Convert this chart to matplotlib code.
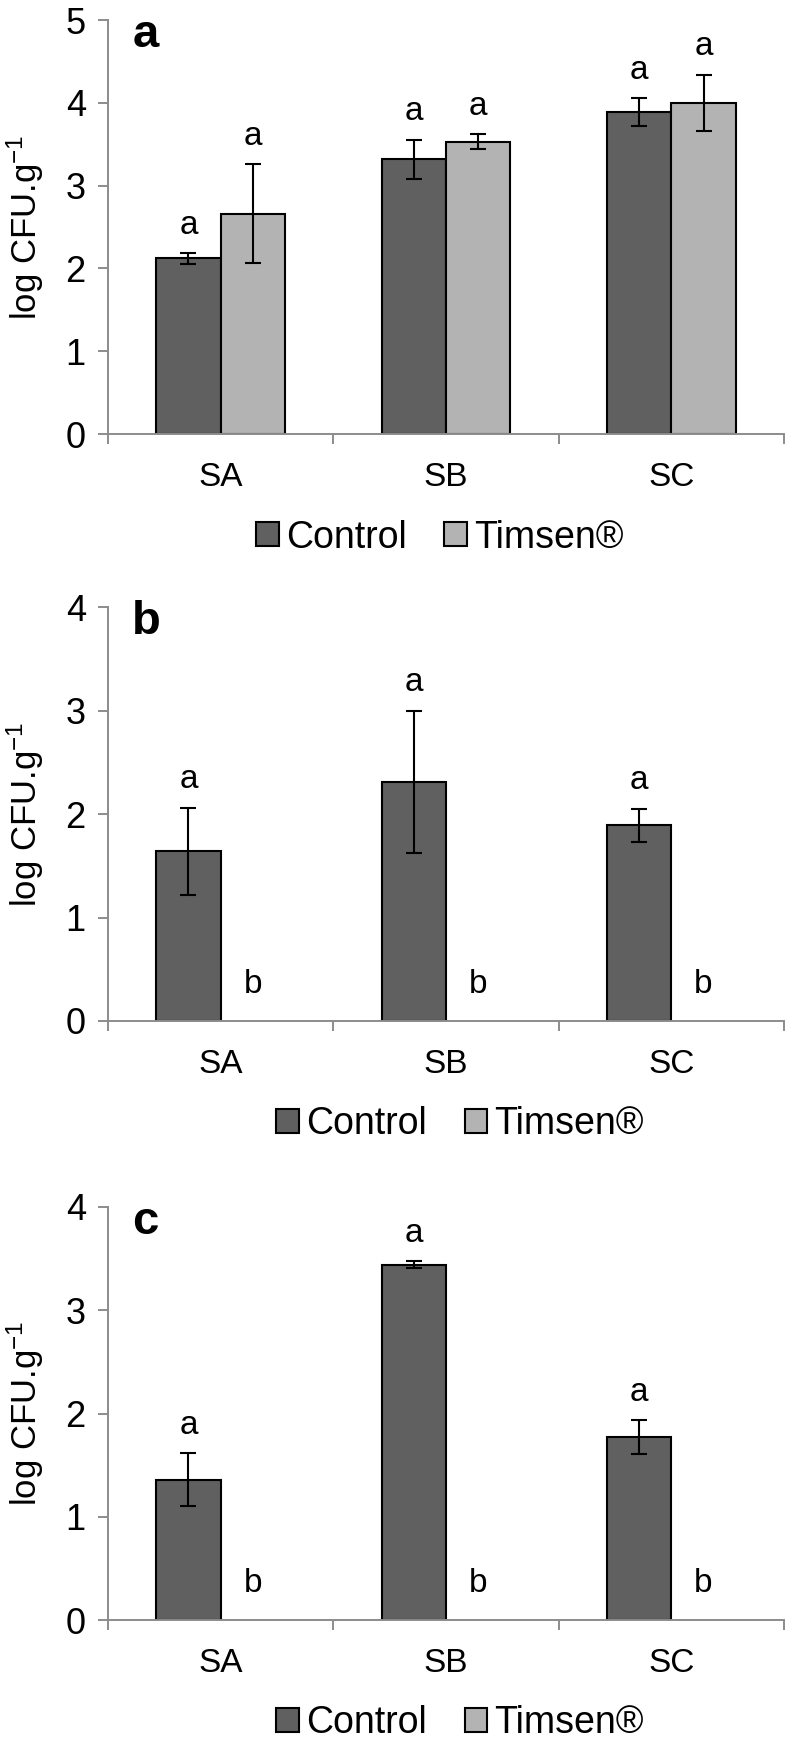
import numpy as np
import matplotlib
matplotlib.use("Agg")
import matplotlib.pyplot as plt
from matplotlib.patches import Patch

plt.rcParams['font.family'] = ['Liberation Sans', 'DejaVu Sans']
plt.rcParams['mathtext.default'] = 'regular'

# --- data ---
categories = ['SA', 'SB', 'SC']
series_names = ['Control', 'Timsen®']

a_control = [2.12, 3.32, 3.89]
a_control_err = [0.065, 0.235, 0.165]
a_timsen = [2.66, 3.53, 4.00]
a_timsen_err = [0.60, 0.09, 0.34]
a_control_letters = ['a', 'a', 'a']
a_timsen_letters = ['a', 'a', 'a']

b_control = [1.64, 2.31, 1.89]
b_control_err = [0.42, 0.69, 0.16]
b_timsen = [0.0, 0.0, 0.0]
b_timsen_err = [0.0, 0.0, 0.0]
b_control_letters = ['a', 'a', 'a']
b_timsen_letters = ['b', 'b', 'b']

c_control = [1.36, 3.44, 1.77]
c_control_err = [0.255, 0.035, 0.165]
c_timsen = [0.0, 0.0, 0.0]
c_timsen_err = [0.0, 0.0, 0.0]
c_control_letters = ['a', 'a', 'a']
c_timsen_letters = ['b', 'b', 'b']

DARK = '#606060'
LIGHT = '#b3b3b3'
AXIS_GRAY = '#8c8c8c'
BAR_W = 0.286  # Excel gap width 150%


def draw_panel(ax, tag, ymax, values, errors, letters, legend_x):
    x = np.arange(len(categories))
    offsets = [-BAR_W / 2, BAR_W / 2]
    colors = [DARK, LIGHT]
    for vals, errs, lets, off, col in zip(values, errors, letters,
                                          offsets, colors):
        vals = np.asarray(vals)
        errs = np.asarray(errs)
        # zero bars show no outline in the original
        lw = np.where(vals > 0, 1.5, 0.0)
        ax.bar(x + off, vals, BAR_W, color=col, edgecolor='black',
               linewidth=lw, zorder=2)
        nz = vals > 0
        if nz.any():
            ax.errorbar((x + off)[nz], vals[nz], yerr=errs[nz], fmt='none',
                        ecolor='black', elinewidth=1.5, capsize=6,
                        capthick=1.5, zorder=3)
        # significance letters
        for xi, v, e, s in zip(x + off, vals, errs, lets):
            dy = 14 if v > 0 else 20
            ax.annotate(s, (xi, v + e), xytext=(0, dy),
                        textcoords='offset points', ha='center',
                        va='baseline', fontsize=24)

    ax.set_xlim(-0.5, len(categories) - 0.5)
    ax.set_ylim(0, ymax)
    ax.set_yticks(range(ymax + 1))
    ax.set_xticks(np.arange(len(categories) + 1) - 0.5)
    ax.set_xticklabels([])
    ax.set_xticks(x, minor=True)
    ax.set_xticklabels(categories, minor=True, fontsize=24)

    for side in ['top', 'right']:
        ax.spines[side].set_visible(False)
    for side in ['left', 'bottom']:
        ax.spines[side].set_color(AXIS_GRAY)
        ax.spines[side].set_linewidth(1.4)

    ax.tick_params(axis='y', direction='out', length=7, width=1.4,
                   color=AXIS_GRAY, labelsize=26, pad=9)
    ax.tick_params(axis='x', which='major', direction='out', length=7,
                   width=1.4, color=AXIS_GRAY)
    ax.tick_params(axis='x', which='minor', length=0, pad=20)

    ax.set_ylabel('log CFU.g$^{-1}$', fontsize=25, va='center')
    ax.yaxis.set_label_coords(-0.123, 0.5)

    ax.text(0.036, 0.935, tag, transform=ax.transAxes, fontsize=34,
            fontweight='bold', va='baseline', ha='left')

    handles = [Patch(facecolor=c, edgecolor='black', linewidth=1.5)
               for c in colors]
    ax.legend(handles, series_names, loc='center',
              bbox_to_anchor=(legend_x, -0.25), ncol=2, frameon=False,
              fontsize=27, handlelength=0.6, handleheight=0.6,
              handletextpad=0.2, columnspacing=1.0,
              borderpad=0, borderaxespad=0)


fig = plt.figure(figsize=(7.9, 17.46), dpi=100)
W, H = 790, 1746
left = 108 / W
width = (784 - 108) / W


def axes_rect(top_px, bottom_px):
    return [left, 1 - bottom_px / H, width, (bottom_px - top_px) / H]


ax_a = fig.add_axes(axes_rect(20, 434))
ax_b = fig.add_axes(axes_rect(607, 1021))
ax_c = fig.add_axes(axes_rect(1207, 1620))

draw_panel(ax_a, 'a', 5, [a_control, a_timsen], [a_control_err, a_timsen_err],
           [a_control_letters, a_timsen_letters], 0.491)
draw_panel(ax_b, 'b', 4, [b_control, b_timsen], [b_control_err, b_timsen_err],
           [b_control_letters, b_timsen_letters], 0.521)
draw_panel(ax_c, 'c', 4, [c_control, c_timsen], [c_control_err, c_timsen_err],
           [c_control_letters, c_timsen_letters], 0.521)

fig.savefig('out.png', dpi=100)
